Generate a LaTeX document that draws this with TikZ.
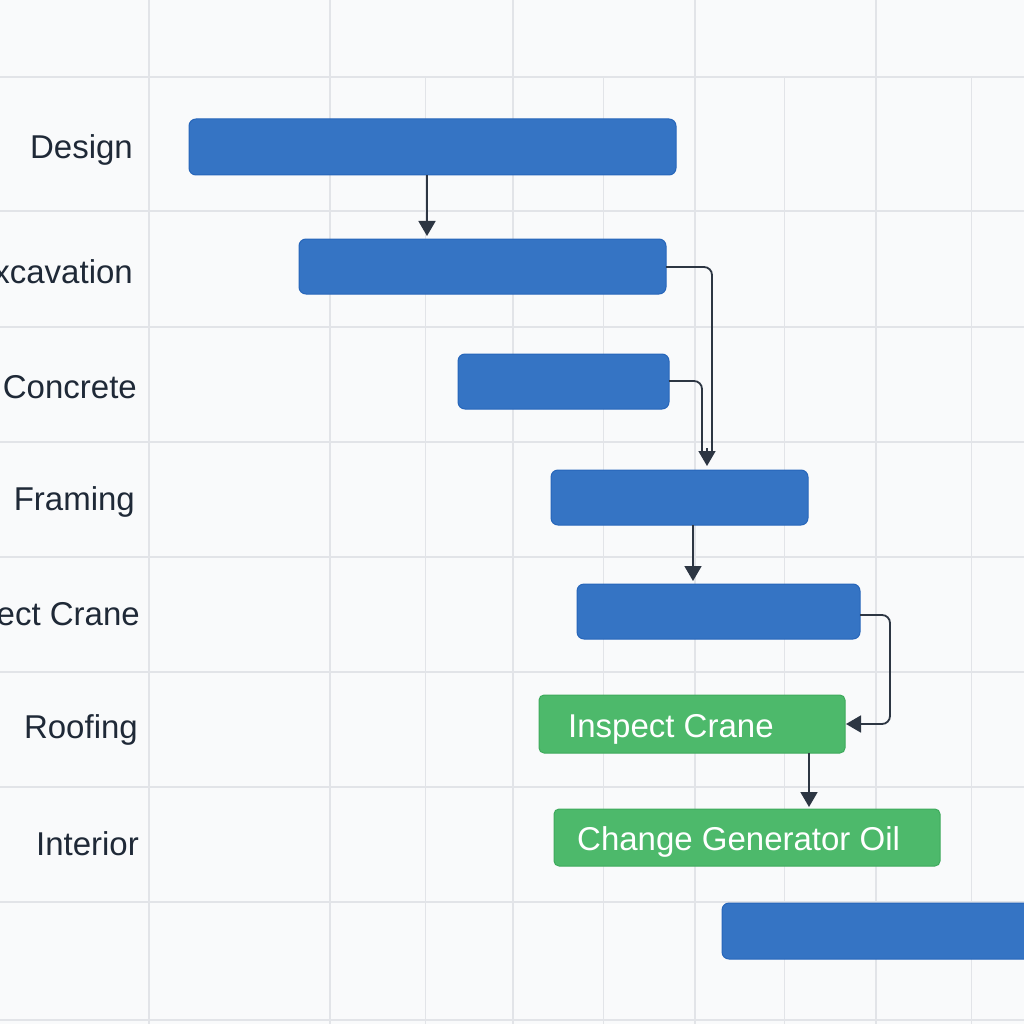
\documentclass[tikz,border=0pt]{standalone}
\usepackage{fontspec}
\setmainfont{Liberation Sans}
\usetikzlibrary{arrows.meta}
\definecolor{bg}{HTML}{F9FAFB}
\definecolor{gridc}{HTML}{E2E4E8}
\definecolor{txt}{HTML}{1F2937}
\definecolor{bfill}{HTML}{3574C4}
\definecolor{bdraw}{HTML}{2766BA}
\definecolor{gfill}{HTML}{4DB96B}
\definecolor{gdraw}{HTML}{3EAA5C}
\definecolor{arr}{HTML}{2D3643}
\begin{document}
\begin{tikzpicture}[x=1pt,y=-1pt,
  lab/.style={anchor=east,text=txt,font=\fontsize{33}{33}\selectfont,inner sep=0pt},
  bar/.style={draw=bdraw,fill=bfill,rounded corners=7pt,line width=1pt},
  gbar/.style={draw=gdraw,fill=gfill,rounded corners=5pt,line width=1pt},
  gtxt/.style={anchor=west,text=white,font=\fontsize{33}{33}\selectfont,inner sep=0pt},
  ln/.style={draw=arr,line width=1.8pt,rounded corners=8pt},
  con/.style={ln,-{Triangle[length=15pt,width=17pt]}}]
\useasboundingbox (0,0) rectangle (1024,1024);
\begin{scope}
\clip (0,0) rectangle (1024,1024);
\fill[bg] (0,0) rectangle (1024,1024);
\foreach \x in {149,330,513,695,876}
  \draw[gridc,line width=1.2pt] (\x,0) -- (\x,1024);
\foreach \x in {425,603,784,971}
  \draw[gridc,line width=0.8pt] (\x,77) -- (\x,1024);
\foreach \y in {77,211,327,442,557,672,787,902,1020}
  \draw[gridc,line width=1.2pt] (0,\y) -- (1024,\y);

\node[lab] (l1) at (133,150) {Design};
\node[lab] (l2) at (133,272) {Excavation};
\node[lab] (l3) at (137,387) {Concrete};
\node[lab] (l4) at (135,502) {Framing};
\node[lab] (l5) at (140,617) {Inspect Crane};
\node[lab] (l6) at (138,730) {Roofing};
\node[lab] (l7) at (139,844) {Interior};

\path[bar] (189,119) rectangle (676,175);
\coordinate (d) at (427,175);
\path[bar] (299,239) rectangle (666,294);
\coordinate (e) at (666,267);
\coordinate (et) at (427,236);
\path[bar] (458,354) rectangle (669,409);
\coordinate (c) at (669,381);
\path[bar] (551,470) rectangle (808,525);
\coordinate (fm) at (707,448);
\coordinate (ft) at (707,466);
\coordinate (fb) at (693,525);
\path[bar] (577,584) rectangle (860,639);
\coordinate (ct) at (693,581);
\coordinate (cr) at (860,615);
\path[gbar] (539,695) rectangle (845,753);
\node[gtxt] (ic) at (568,729) {Inspect Crane};
\coordinate (ir) at (846,724);
\coordinate (ib) at (809,753);
\path[gbar] (554,809) rectangle (940,866);
\node[gtxt] (go) at (577,842) {Change Generator Oil};
\coordinate (gt) at (809,807);
\path[bar] (722,903) rectangle (1040,959);

\draw[con] (d) -- (et);
\draw[ln] (e) -| (712,452);
\draw[ln] (c) -| (702,452);
\draw[con] (fm) -- (ft);
\draw[con] (fb) -- (ct);
\draw[con] (cr) -- (890,615) -- (890,724) -- (ir);
\draw[con] (ib) -- (gt);
\end{scope}
\end{tikzpicture}
\end{document}
